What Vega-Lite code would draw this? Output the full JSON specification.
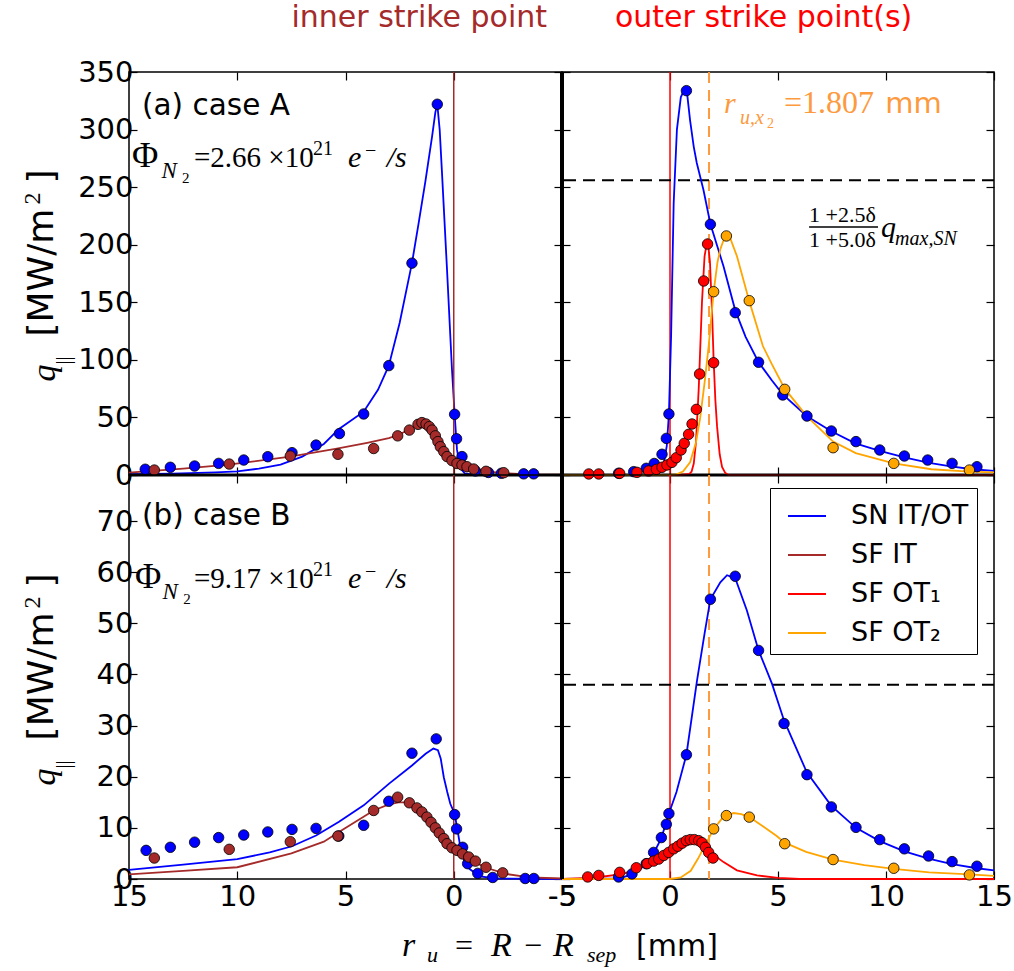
{
"$schema":"https://vega.github.io/schema/vega-lite/v6.json",
"padding":{"left":20,"top":2,"right":5,"bottom":5},
"background":"white",
"config":{
 "view":{"stroke":"black","strokeWidth":1.5},
 "axis":{"domain":false,"grid":false,"tickColor":"black","tickWidth":1.2,"tickSize":-8,"labelFont":"DejaVu Sans","labelFontSize":29,"labelColor":"black","labelFlush":false,"labelOverlap":false,"labelPadding":4}
},
"datasets":{
"pts":[
{"p":"A_IT","s":"SN IT/OT","x":14.25,"q":5},{"p":"A_IT","s":"SN IT/OT","x":13.09,"q":6.7},{"p":"A_IT","s":"SN IT/OT","x":11.97,"q":7.8},{"p":"A_IT","s":"SN IT/OT","x":10.86,"q":10.1},{"p":"A_IT","s":"SN IT/OT","x":9.7,"q":13},{"p":"A_IT","s":"SN IT/OT","x":8.59,"q":15.9},{"p":"A_IT","s":"SN IT/OT","x":7.47,"q":19.4},{"p":"A_IT","s":"SN IT/OT","x":6.36,"q":26},{"p":"A_IT","s":"SN IT/OT","x":5.28,"q":36},{"p":"A_IT","s":"SN IT/OT","x":4.16,"q":53},{"p":"A_IT","s":"SN IT/OT","x":3.0,"q":95},{"p":"A_IT","s":"SN IT/OT","x":1.93,"q":184},{"p":"A_IT","s":"SN IT/OT","x":0.76,"q":322},{"p":"A_IT","s":"SN IT/OT","x":-0.04,"q":52.7},{"p":"A_IT","s":"SN IT/OT","x":-0.13,"q":31.5},{"p":"A_IT","s":"SN IT/OT","x":-0.38,"q":16},{"p":"A_IT","s":"SN IT/OT","x":-1.0,"q":3.5},{"p":"A_IT","s":"SN IT/OT","x":-1.6,"q":2.2},{"p":"A_IT","s":"SN IT/OT","x":-2.2,"q":1.5},{"p":"A_IT","s":"SN IT/OT","x":-3.23,"q":1},{"p":"A_IT","s":"SN IT/OT","x":-3.69,"q":1},
{"p":"A_IT","s":"SF IT","x":13.83,"q":4.3},{"p":"A_IT","s":"SF IT","x":10.37,"q":9.5},{"p":"A_IT","s":"SF IT","x":7.55,"q":16.5},{"p":"A_IT","s":"SF IT","x":5.35,"q":18},{"p":"A_IT","s":"SF IT","x":3.7,"q":23},{"p":"A_IT","s":"SF IT","x":2.59,"q":34},{"p":"A_IT","s":"SF IT","x":2.05,"q":39},{"p":"A_IT","s":"SF IT","x":1.65,"q":44},{"p":"A_IT","s":"SF IT","x":1.47,"q":45.5},{"p":"A_IT","s":"SF IT","x":1.28,"q":44.3},{"p":"A_IT","s":"SF IT","x":1.13,"q":42},{"p":"A_IT","s":"SF IT","x":1.0,"q":39},{"p":"A_IT","s":"SF IT","x":0.85,"q":34},{"p":"A_IT","s":"SF IT","x":0.73,"q":29},{"p":"A_IT","s":"SF IT","x":0.62,"q":24.6},{"p":"A_IT","s":"SF IT","x":0.46,"q":20.3},{"p":"A_IT","s":"SF IT","x":0.31,"q":16},{"p":"A_IT","s":"SF IT","x":0.08,"q":12.5},{"p":"A_IT","s":"SF IT","x":-0.15,"q":10},{"p":"A_IT","s":"SF IT","x":-0.38,"q":8.7},{"p":"A_IT","s":"SF IT","x":-0.61,"q":7.2},{"p":"A_IT","s":"SF IT","x":-0.92,"q":5.2},{"p":"A_IT","s":"SF IT","x":-1.49,"q":3.2},{"p":"A_IT","s":"SF IT","x":-2.31,"q":2},
{"p":"A_OT","s":"SN IT/OT","x":-2.38,"q":1.5},{"p":"A_OT","s":"SN IT/OT","x":-1.68,"q":2.9},{"p":"A_OT","s":"SN IT/OT","x":-1.1,"q":5.8},{"p":"A_OT","s":"SN IT/OT","x":-0.73,"q":10},{"p":"A_OT","s":"SN IT/OT","x":-0.37,"q":18},{"p":"A_OT","s":"SN IT/OT","x":-0.17,"q":31.8},{"p":"A_OT","s":"SN IT/OT","x":-0.05,"q":53},{"p":"A_OT","s":"SN IT/OT","x":0.76,"q":333.8},{"p":"A_OT","s":"SN IT/OT","x":1.87,"q":217.7},{"p":"A_OT","s":"SN IT/OT","x":3.02,"q":141},{"p":"A_OT","s":"SN IT/OT","x":4.1,"q":97.9},{"p":"A_OT","s":"SN IT/OT","x":5.22,"q":69.5},{"p":"A_OT","s":"SN IT/OT","x":6.34,"q":51.2},{"p":"A_OT","s":"SN IT/OT","x":7.47,"q":38.2},{"p":"A_OT","s":"SN IT/OT","x":8.61,"q":29},{"p":"A_OT","s":"SN IT/OT","x":9.71,"q":21.7},{"p":"A_OT","s":"SN IT/OT","x":10.85,"q":16.5},{"p":"A_OT","s":"SN IT/OT","x":11.93,"q":13},{"p":"A_OT","s":"SN IT/OT","x":13.06,"q":10.1},{"p":"A_OT","s":"SN IT/OT","x":14.21,"q":7.2},
{"p":"A_OT","s":"SF OT₁","x":-3.76,"q":0.9},{"p":"A_OT","s":"SF OT₁","x":-3.3,"q":0.9},{"p":"A_OT","s":"SF OT₁","x":-2.33,"q":1.4},{"p":"A_OT","s":"SF OT₁","x":-1.53,"q":2.3},{"p":"A_OT","s":"SF OT₁","x":-0.99,"q":3.5},{"p":"A_OT","s":"SF OT₁","x":-0.63,"q":4.9},{"p":"A_OT","s":"SF OT₁","x":-0.37,"q":6.7},{"p":"A_OT","s":"SF OT₁","x":-0.14,"q":8.7},{"p":"A_OT","s":"SF OT₁","x":0.09,"q":11},{"p":"A_OT","s":"SF OT₁","x":0.29,"q":15},{"p":"A_OT","s":"SF OT₁","x":0.51,"q":21.7},{"p":"A_OT","s":"SF OT₁","x":0.66,"q":27.5},{"p":"A_OT","s":"SF OT₁","x":0.86,"q":35.3},{"p":"A_OT","s":"SF OT₁","x":1.02,"q":44.3},{"p":"A_OT","s":"SF OT₁","x":1.22,"q":57},{"p":"A_OT","s":"SF OT₁","x":1.37,"q":87.7},{"p":"A_OT","s":"SF OT₁","x":1.56,"q":168.5},{"p":"A_OT","s":"SF OT₁","x":1.74,"q":200.6},{"p":"A_OT","s":"SF OT₁","x":2.02,"q":97.5},
{"p":"A_OT","s":"SF OT₂","x":2.02,"q":159.2},{"p":"A_OT","s":"SF OT₂","x":2.61,"q":207.6},{"p":"A_OT","s":"SF OT₂","x":3.67,"q":151.4},{"p":"A_OT","s":"SF OT₂","x":5.31,"q":74.4},{"p":"A_OT","s":"SF OT₂","x":7.55,"q":23.7},{"p":"A_OT","s":"SF OT₂","x":10.36,"q":10.1},{"p":"A_OT","s":"SF OT₂","x":13.86,"q":4.3},
{"p":"B_IT","s":"SN IT/OT","x":14.21,"q":5.6},{"p":"B_IT","s":"SN IT/OT","x":13.09,"q":6.2},{"p":"B_IT","s":"SN IT/OT","x":11.97,"q":7.2},{"p":"B_IT","s":"SN IT/OT","x":10.86,"q":8.1},{"p":"B_IT","s":"SN IT/OT","x":9.7,"q":8.6},{"p":"B_IT","s":"SN IT/OT","x":8.59,"q":9.2},{"p":"B_IT","s":"SN IT/OT","x":7.47,"q":9.7},{"p":"B_IT","s":"SN IT/OT","x":6.36,"q":9.9},{"p":"B_IT","s":"SN IT/OT","x":5.31,"q":8.4},{"p":"B_IT","s":"SN IT/OT","x":4.16,"q":10.5},{"p":"B_IT","s":"SN IT/OT","x":3.0,"q":15.2},{"p":"B_IT","s":"SN IT/OT","x":1.93,"q":24.6},{"p":"B_IT","s":"SN IT/OT","x":0.81,"q":27.4},{"p":"B_IT","s":"SN IT/OT","x":-0.04,"q":12.6},{"p":"B_IT","s":"SN IT/OT","x":-0.13,"q":9.8},{"p":"B_IT","s":"SN IT/OT","x":-0.41,"q":6.2},{"p":"B_IT","s":"SN IT/OT","x":-0.64,"q":3.0},{"p":"B_IT","s":"SN IT/OT","x":-1.11,"q":1.1},{"p":"B_IT","s":"SN IT/OT","x":-1.8,"q":0.3},{"p":"B_IT","s":"SN IT/OT","x":-3.3,"q":0.1},{"p":"B_IT","s":"SN IT/OT","x":-3.7,"q":0.1},
{"p":"B_IT","s":"SF IT","x":13.83,"q":4.1},{"p":"B_IT","s":"SF IT","x":10.37,"q":5.8},{"p":"B_IT","s":"SF IT","x":7.55,"q":7.3},{"p":"B_IT","s":"SF IT","x":5.35,"q":8.4},{"p":"B_IT","s":"SF IT","x":3.7,"q":13.4},{"p":"B_IT","s":"SF IT","x":2.59,"q":16},{"p":"B_IT","s":"SF IT","x":2.05,"q":14.9},{"p":"B_IT","s":"SF IT","x":1.7,"q":13.9},{"p":"B_IT","s":"SF IT","x":1.47,"q":13.1},{"p":"B_IT","s":"SF IT","x":1.24,"q":12.1},{"p":"B_IT","s":"SF IT","x":1.05,"q":11.1},{"p":"B_IT","s":"SF IT","x":0.85,"q":10},{"p":"B_IT","s":"SF IT","x":0.67,"q":9},{"p":"B_IT","s":"SF IT","x":0.46,"q":7.9},{"p":"B_IT","s":"SF IT","x":0.31,"q":6.9},{"p":"B_IT","s":"SF IT","x":0.08,"q":6.1},{"p":"B_IT","s":"SF IT","x":-0.15,"q":5.6},{"p":"B_IT","s":"SF IT","x":-0.41,"q":4.9},{"p":"B_IT","s":"SF IT","x":-0.69,"q":4.3},{"p":"B_IT","s":"SF IT","x":-1.0,"q":3.5},{"p":"B_IT","s":"SF IT","x":-1.49,"q":2.3},{"p":"B_IT","s":"SF IT","x":-2.26,"q":1.2},
{"p":"B_OT","s":"SN IT/OT","x":-2.38,"q":0.4},{"p":"B_OT","s":"SN IT/OT","x":-1.76,"q":1.0},{"p":"B_OT","s":"SN IT/OT","x":-1.1,"q":3.0},{"p":"B_OT","s":"SN IT/OT","x":-0.76,"q":5.2},{"p":"B_OT","s":"SN IT/OT","x":-0.4,"q":8.1},{"p":"B_OT","s":"SN IT/OT","x":-0.17,"q":10.7},{"p":"B_OT","s":"SN IT/OT","x":-0.05,"q":12.8},{"p":"B_OT","s":"SN IT/OT","x":0.76,"q":24.3},{"p":"B_OT","s":"SN IT/OT","x":1.87,"q":54.7},{"p":"B_OT","s":"SN IT/OT","x":3.02,"q":59.2},{"p":"B_OT","s":"SN IT/OT","x":4.1,"q":44.7},{"p":"B_OT","s":"SN IT/OT","x":5.28,"q":30.4},{"p":"B_OT","s":"SN IT/OT","x":6.34,"q":20.4},{"p":"B_OT","s":"SN IT/OT","x":7.47,"q":14.1},{"p":"B_OT","s":"SN IT/OT","x":8.61,"q":10.1},{"p":"B_OT","s":"SN IT/OT","x":9.71,"q":7.7},{"p":"B_OT","s":"SN IT/OT","x":10.85,"q":5.9},{"p":"B_OT","s":"SN IT/OT","x":11.97,"q":4.5},{"p":"B_OT","s":"SN IT/OT","x":13.06,"q":3.4},{"p":"B_OT","s":"SN IT/OT","x":14.21,"q":2.5},
{"p":"B_OT","s":"SF OT₁","x":-3.81,"q":0.4},{"p":"B_OT","s":"SF OT₁","x":-3.3,"q":0.7},{"p":"B_OT","s":"SF OT₁","x":-2.33,"q":1.3},{"p":"B_OT","s":"SF OT₁","x":-1.56,"q":2.2},{"p":"B_OT","s":"SF OT₁","x":-1.06,"q":3.0},{"p":"B_OT","s":"SF OT₁","x":-0.76,"q":3.5},{"p":"B_OT","s":"SF OT₁","x":-0.52,"q":3.9},{"p":"B_OT","s":"SF OT₁","x":-0.29,"q":4.6},{"p":"B_OT","s":"SF OT₁","x":-0.06,"q":5.2},{"p":"B_OT","s":"SF OT₁","x":0.17,"q":5.9},{"p":"B_OT","s":"SF OT₁","x":0.36,"q":6.4},{"p":"B_OT","s":"SF OT₁","x":0.56,"q":7.0},{"p":"B_OT","s":"SF OT₁","x":0.76,"q":7.5},{"p":"B_OT","s":"SF OT₁","x":0.94,"q":7.7},{"p":"B_OT","s":"SF OT₁","x":1.13,"q":7.7},{"p":"B_OT","s":"SF OT₁","x":1.33,"q":7.5},{"p":"B_OT","s":"SF OT₁","x":1.48,"q":7.1},{"p":"B_OT","s":"SF OT₁","x":1.64,"q":6.2},{"p":"B_OT","s":"SF OT₁","x":1.79,"q":5.2},{"p":"B_OT","s":"SF OT₁","x":1.99,"q":4.1},
{"p":"B_OT","s":"SF OT₂","x":2.02,"q":9.8},{"p":"B_OT","s":"SF OT₂","x":2.61,"q":12.4},{"p":"B_OT","s":"SF OT₂","x":3.67,"q":12.1},{"p":"B_OT","s":"SF OT₂","x":5.31,"q":6.9},{"p":"B_OT","s":"SF OT₂","x":7.55,"q":3.8},{"p":"B_OT","s":"SF OT₂","x":10.36,"q":2.1},{"p":"B_OT","s":"SF OT₂","x":13.86,"q":0.8}
],
"lines":[
{"p":"A_IT","s":"SN IT/OT","x":15,"q":0.7},{"p":"A_IT","s":"SN IT/OT","x":13,"q":1.2},{"p":"A_IT","s":"SN IT/OT","x":11,"q":2.3},{"p":"A_IT","s":"SN IT/OT","x":10,"q":3.2},{"p":"A_IT","s":"SN IT/OT","x":9,"q":5.5},{"p":"A_IT","s":"SN IT/OT","x":8,"q":9},{"p":"A_IT","s":"SN IT/OT","x":7,"q":16},{"p":"A_IT","s":"SN IT/OT","x":6,"q":27},{"p":"A_IT","s":"SN IT/OT","x":5.3,"q":40},{"p":"A_IT","s":"SN IT/OT","x":4.16,"q":55},{"p":"A_IT","s":"SN IT/OT","x":3.5,"q":74},{"p":"A_IT","s":"SN IT/OT","x":3,"q":95},{"p":"A_IT","s":"SN IT/OT","x":2.5,"q":132},{"p":"A_IT","s":"SN IT/OT","x":1.93,"q":184},{"p":"A_IT","s":"SN IT/OT","x":1.62,"q":219},{"p":"A_IT","s":"SN IT/OT","x":1.31,"q":255},{"p":"A_IT","s":"SN IT/OT","x":1.0,"q":294},{"p":"A_IT","s":"SN IT/OT","x":0.85,"q":315},{"p":"A_IT","s":"SN IT/OT","x":0.76,"q":322},{"p":"A_IT","s":"SN IT/OT","x":0.65,"q":300},{"p":"A_IT","s":"SN IT/OT","x":0.55,"q":265},{"p":"A_IT","s":"SN IT/OT","x":0.31,"q":178},{"p":"A_IT","s":"SN IT/OT","x":0.08,"q":91},{"p":"A_IT","s":"SN IT/OT","x":-0.04,"q":53},{"p":"A_IT","s":"SN IT/OT","x":-0.15,"q":22},{"p":"A_IT","s":"SN IT/OT","x":-0.3,"q":6},{"p":"A_IT","s":"SN IT/OT","x":-0.5,"q":1.5},{"p":"A_IT","s":"SN IT/OT","x":-1,"q":0.2},{"p":"A_IT","s":"SN IT/OT","x":-5,"q":0},
{"p":"A_IT","s":"SF IT","x":15,"q":2},{"p":"A_IT","s":"SF IT","x":12.5,"q":5.5},{"p":"A_IT","s":"SF IT","x":10.4,"q":9},{"p":"A_IT","s":"SF IT","x":7.55,"q":16},{"p":"A_IT","s":"SF IT","x":5.4,"q":23},{"p":"A_IT","s":"SF IT","x":4,"q":28},{"p":"A_IT","s":"SF IT","x":3,"q":32},{"p":"A_IT","s":"SF IT","x":2.6,"q":34.5},{"p":"A_IT","s":"SF IT","x":2.0,"q":40},{"p":"A_IT","s":"SF IT","x":1.6,"q":44.5},{"p":"A_IT","s":"SF IT","x":1.45,"q":45},{"p":"A_IT","s":"SF IT","x":1.3,"q":44.5},{"p":"A_IT","s":"SF IT","x":1.1,"q":42},{"p":"A_IT","s":"SF IT","x":1.0,"q":39.5},{"p":"A_IT","s":"SF IT","x":0.85,"q":34},{"p":"A_IT","s":"SF IT","x":0.7,"q":28.5},{"p":"A_IT","s":"SF IT","x":0.55,"q":23},{"p":"A_IT","s":"SF IT","x":0.4,"q":18.5},{"p":"A_IT","s":"SF IT","x":0.2,"q":14.5},{"p":"A_IT","s":"SF IT","x":0,"q":12},{"p":"A_IT","s":"SF IT","x":-0.3,"q":9},{"p":"A_IT","s":"SF IT","x":-0.6,"q":7},{"p":"A_IT","s":"SF IT","x":-1,"q":5},{"p":"A_IT","s":"SF IT","x":-1.5,"q":3.2},{"p":"A_IT","s":"SF IT","x":-2.3,"q":1.6},{"p":"A_IT","s":"SF IT","x":-3,"q":0.9},{"p":"A_IT","s":"SF IT","x":-4,"q":0.4},{"p":"A_IT","s":"SF IT","x":-5,"q":0.2},
{"p":"A_OT","s":"SN IT/OT","x":-5,"q":0},{"p":"A_OT","s":"SN IT/OT","x":-1.5,"q":0},{"p":"A_OT","s":"SN IT/OT","x":-0.8,"q":0.5},{"p":"A_OT","s":"SN IT/OT","x":-0.5,"q":2},{"p":"A_OT","s":"SN IT/OT","x":-0.31,"q":8},{"p":"A_OT","s":"SN IT/OT","x":-0.15,"q":25},{"p":"A_OT","s":"SN IT/OT","x":-0.05,"q":53},{"p":"A_OT","s":"SN IT/OT","x":0.05,"q":120},{"p":"A_OT","s":"SN IT/OT","x":0.17,"q":236},{"p":"A_OT","s":"SN IT/OT","x":0.32,"q":300},{"p":"A_OT","s":"SN IT/OT","x":0.5,"q":328},{"p":"A_OT","s":"SN IT/OT","x":0.69,"q":336},{"p":"A_OT","s":"SN IT/OT","x":0.8,"q":330},{"p":"A_OT","s":"SN IT/OT","x":0.93,"q":308},{"p":"A_OT","s":"SN IT/OT","x":1.1,"q":285},{"p":"A_OT","s":"SN IT/OT","x":1.24,"q":271},{"p":"A_OT","s":"SN IT/OT","x":1.55,"q":247.5},{"p":"A_OT","s":"SN IT/OT","x":1.87,"q":218},{"p":"A_OT","s":"SN IT/OT","x":2.2,"q":198},{"p":"A_OT","s":"SN IT/OT","x":2.48,"q":181},{"p":"A_OT","s":"SN IT/OT","x":3.02,"q":143},{"p":"A_OT","s":"SN IT/OT","x":3.5,"q":120},{"p":"A_OT","s":"SN IT/OT","x":4.1,"q":98},{"p":"A_OT","s":"SN IT/OT","x":4.72,"q":82},{"p":"A_OT","s":"SN IT/OT","x":5.22,"q":70},{"p":"A_OT","s":"SN IT/OT","x":6.34,"q":51},{"p":"A_OT","s":"SN IT/OT","x":7.47,"q":38},{"p":"A_OT","s":"SN IT/OT","x":8.58,"q":27.5},{"p":"A_OT","s":"SN IT/OT","x":9.71,"q":21},{"p":"A_OT","s":"SN IT/OT","x":10.9,"q":15},{"p":"A_OT","s":"SN IT/OT","x":12,"q":10.5},{"p":"A_OT","s":"SN IT/OT","x":13,"q":7.5},{"p":"A_OT","s":"SN IT/OT","x":14,"q":5},{"p":"A_OT","s":"SN IT/OT","x":15,"q":3.5},
{"p":"A_OT","s":"SF OT₁","x":-5,"q":0},{"p":"A_OT","s":"SF OT₁","x":0.5,"q":0},{"p":"A_OT","s":"SF OT₁","x":0.9,"q":1},{"p":"A_OT","s":"SF OT₁","x":1.0,"q":3},{"p":"A_OT","s":"SF OT₁","x":1.1,"q":10},{"p":"A_OT","s":"SF OT₁","x":1.2,"q":28},{"p":"A_OT","s":"SF OT₁","x":1.33,"q":75},{"p":"A_OT","s":"SF OT₁","x":1.48,"q":150},{"p":"A_OT","s":"SF OT₁","x":1.6,"q":190},{"p":"A_OT","s":"SF OT₁","x":1.74,"q":205},{"p":"A_OT","s":"SF OT₁","x":1.85,"q":185},{"p":"A_OT","s":"SF OT₁","x":1.95,"q":140},{"p":"A_OT","s":"SF OT₁","x":2.02,"q":100},{"p":"A_OT","s":"SF OT₁","x":2.1,"q":65},{"p":"A_OT","s":"SF OT₁","x":2.18,"q":42},{"p":"A_OT","s":"SF OT₁","x":2.3,"q":18},{"p":"A_OT","s":"SF OT₁","x":2.41,"q":7},{"p":"A_OT","s":"SF OT₁","x":2.55,"q":2},{"p":"A_OT","s":"SF OT₁","x":2.7,"q":0},{"p":"A_OT","s":"SF OT₁","x":15,"q":0},
{"p":"A_OT","s":"SF OT₂","x":-5,"q":0},{"p":"A_OT","s":"SF OT₂","x":0,"q":0},{"p":"A_OT","s":"SF OT₂","x":0.3,"q":0.5},{"p":"A_OT","s":"SF OT₂","x":0.6,"q":3},{"p":"A_OT","s":"SF OT₂","x":0.93,"q":11},{"p":"A_OT","s":"SF OT₂","x":1.2,"q":28},{"p":"A_OT","s":"SF OT₂","x":1.4,"q":50},{"p":"A_OT","s":"SF OT₂","x":1.6,"q":80},{"p":"A_OT","s":"SF OT₂","x":1.79,"q":112},{"p":"A_OT","s":"SF OT₂","x":2.02,"q":159},{"p":"A_OT","s":"SF OT₂","x":2.2,"q":185},{"p":"A_OT","s":"SF OT₂","x":2.33,"q":196},{"p":"A_OT","s":"SF OT₂","x":2.5,"q":205},{"p":"A_OT","s":"SF OT₂","x":2.61,"q":207},{"p":"A_OT","s":"SF OT₂","x":2.8,"q":205},{"p":"A_OT","s":"SF OT₂","x":3.1,"q":190},{"p":"A_OT","s":"SF OT₂","x":3.67,"q":151},{"p":"A_OT","s":"SF OT₂","x":4.3,"q":112},{"p":"A_OT","s":"SF OT₂","x":4.72,"q":96},{"p":"A_OT","s":"SF OT₂","x":5.31,"q":75},{"p":"A_OT","s":"SF OT₂","x":6.34,"q":51},{"p":"A_OT","s":"SF OT₂","x":7.55,"q":29},{"p":"A_OT","s":"SF OT₂","x":8.6,"q":19},{"p":"A_OT","s":"SF OT₂","x":10.36,"q":10},{"p":"A_OT","s":"SF OT₂","x":12.1,"q":5},{"p":"A_OT","s":"SF OT₂","x":13.86,"q":3},{"p":"A_OT","s":"SF OT₂","x":15,"q":2.2},
{"p":"B_IT","s":"SN IT/OT","x":15,"q":1.8},{"p":"B_IT","s":"SN IT/OT","x":12.5,"q":2.8},{"p":"B_IT","s":"SN IT/OT","x":10,"q":3.9},{"p":"B_IT","s":"SN IT/OT","x":8.5,"q":5.2},{"p":"B_IT","s":"SN IT/OT","x":7.47,"q":6.4},{"p":"B_IT","s":"SN IT/OT","x":6.36,"q":8.5},{"p":"B_IT","s":"SN IT/OT","x":5.3,"q":11.2},{"p":"B_IT","s":"SN IT/OT","x":4.16,"q":14.4},{"p":"B_IT","s":"SN IT/OT","x":3.0,"q":18.6},{"p":"B_IT","s":"SN IT/OT","x":1.93,"q":22.2},{"p":"B_IT","s":"SN IT/OT","x":1.3,"q":24.5},{"p":"B_IT","s":"SN IT/OT","x":0.94,"q":25.5},{"p":"B_IT","s":"SN IT/OT","x":0.73,"q":25.2},{"p":"B_IT","s":"SN IT/OT","x":0.6,"q":23.5},{"p":"B_IT","s":"SN IT/OT","x":0.46,"q":19.9},{"p":"B_IT","s":"SN IT/OT","x":0.3,"q":17},{"p":"B_IT","s":"SN IT/OT","x":0.16,"q":14.7},{"p":"B_IT","s":"SN IT/OT","x":-0.04,"q":12.8},{"p":"B_IT","s":"SN IT/OT","x":-0.2,"q":8.9},{"p":"B_IT","s":"SN IT/OT","x":-0.33,"q":5.6},{"p":"B_IT","s":"SN IT/OT","x":-0.5,"q":3.5},{"p":"B_IT","s":"SN IT/OT","x":-0.72,"q":2},{"p":"B_IT","s":"SN IT/OT","x":-1.2,"q":0.5},{"p":"B_IT","s":"SN IT/OT","x":-2,"q":0.1},{"p":"B_IT","s":"SN IT/OT","x":-5,"q":0},
{"p":"B_IT","s":"SF IT","x":15,"q":0.9},{"p":"B_IT","s":"SF IT","x":12.5,"q":1.6},{"p":"B_IT","s":"SF IT","x":10,"q":2.3},{"p":"B_IT","s":"SF IT","x":7.5,"q":5},{"p":"B_IT","s":"SF IT","x":6,"q":7.3},{"p":"B_IT","s":"SF IT","x":5.3,"q":9.2},{"p":"B_IT","s":"SF IT","x":4.5,"q":11.3},{"p":"B_IT","s":"SF IT","x":3.7,"q":13.4},{"p":"B_IT","s":"SF IT","x":3.0,"q":14.6},{"p":"B_IT","s":"SF IT","x":2.55,"q":15},{"p":"B_IT","s":"SF IT","x":2.2,"q":15},{"p":"B_IT","s":"SF IT","x":1.9,"q":14.6},{"p":"B_IT","s":"SF IT","x":1.7,"q":13.9},{"p":"B_IT","s":"SF IT","x":1.47,"q":13.1},{"p":"B_IT","s":"SF IT","x":1.24,"q":12.1},{"p":"B_IT","s":"SF IT","x":1.05,"q":11.1},{"p":"B_IT","s":"SF IT","x":0.85,"q":10},{"p":"B_IT","s":"SF IT","x":0.67,"q":9},{"p":"B_IT","s":"SF IT","x":0.46,"q":7.9},{"p":"B_IT","s":"SF IT","x":0.31,"q":7},{"p":"B_IT","s":"SF IT","x":0.08,"q":6.2},{"p":"B_IT","s":"SF IT","x":-0.15,"q":5.5},{"p":"B_IT","s":"SF IT","x":-0.41,"q":4.7},{"p":"B_IT","s":"SF IT","x":-0.69,"q":3.9},{"p":"B_IT","s":"SF IT","x":-1,"q":3.2},{"p":"B_IT","s":"SF IT","x":-1.5,"q":2.2},{"p":"B_IT","s":"SF IT","x":-2.4,"q":1},{"p":"B_IT","s":"SF IT","x":-3.5,"q":0.3},{"p":"B_IT","s":"SF IT","x":-5,"q":0.1},
{"p":"B_OT","s":"SN IT/OT","x":-5,"q":0},{"p":"B_OT","s":"SN IT/OT","x":-2.4,"q":0.1},{"p":"B_OT","s":"SN IT/OT","x":-1.8,"q":0.8},{"p":"B_OT","s":"SN IT/OT","x":-1.1,"q":2.8},{"p":"B_OT","s":"SN IT/OT","x":-0.76,"q":5},{"p":"B_OT","s":"SN IT/OT","x":-0.4,"q":8},{"p":"B_OT","s":"SN IT/OT","x":-0.05,"q":12.8},{"p":"B_OT","s":"SN IT/OT","x":0.3,"q":17},{"p":"B_OT","s":"SN IT/OT","x":0.76,"q":24.3},{"p":"B_OT","s":"SN IT/OT","x":1.25,"q":38.8},{"p":"B_OT","s":"SN IT/OT","x":1.6,"q":48},{"p":"B_OT","s":"SN IT/OT","x":1.87,"q":54.7},{"p":"B_OT","s":"SN IT/OT","x":2.33,"q":58},{"p":"B_OT","s":"SN IT/OT","x":2.64,"q":59.4},{"p":"B_OT","s":"SN IT/OT","x":3.02,"q":58.8},{"p":"B_OT","s":"SN IT/OT","x":3.56,"q":52.5},{"p":"B_OT","s":"SN IT/OT","x":4.1,"q":44.7},{"p":"B_OT","s":"SN IT/OT","x":4.72,"q":38.2},{"p":"B_OT","s":"SN IT/OT","x":5.28,"q":31},{"p":"B_OT","s":"SN IT/OT","x":6.34,"q":20.8},{"p":"B_OT","s":"SN IT/OT","x":7.47,"q":14.3},{"p":"B_OT","s":"SN IT/OT","x":8.61,"q":10},{"p":"B_OT","s":"SN IT/OT","x":9.71,"q":7.4},{"p":"B_OT","s":"SN IT/OT","x":10.85,"q":5.4},{"p":"B_OT","s":"SN IT/OT","x":11.97,"q":4},{"p":"B_OT","s":"SN IT/OT","x":13.06,"q":2.9},{"p":"B_OT","s":"SN IT/OT","x":14.21,"q":2.1},{"p":"B_OT","s":"SN IT/OT","x":15,"q":1.7},
{"p":"B_OT","s":"SF OT₁","x":-5,"q":0},{"p":"B_OT","s":"SF OT₁","x":-3.6,"q":0.2},{"p":"B_OT","s":"SF OT₁","x":-2.15,"q":1},{"p":"B_OT","s":"SF OT₁","x":-1.06,"q":2.8},{"p":"B_OT","s":"SF OT₁","x":-0.29,"q":4.6},{"p":"B_OT","s":"SF OT₁","x":0.17,"q":5.9},{"p":"B_OT","s":"SF OT₁","x":0.5,"q":7.2},{"p":"B_OT","s":"SF OT₁","x":0.86,"q":8},{"p":"B_OT","s":"SF OT₁","x":1.2,"q":7.7},{"p":"B_OT","s":"SF OT₁","x":1.5,"q":6.9},{"p":"B_OT","s":"SF OT₁","x":1.79,"q":5.8},{"p":"B_OT","s":"SF OT₁","x":2.1,"q":4.5},{"p":"B_OT","s":"SF OT₁","x":2.48,"q":3.3},{"p":"B_OT","s":"SF OT₁","x":3.1,"q":1.7},{"p":"B_OT","s":"SF OT₁","x":4.03,"q":0.7},{"p":"B_OT","s":"SF OT₁","x":5,"q":0.2},{"p":"B_OT","s":"SF OT₁","x":6,"q":0},{"p":"B_OT","s":"SF OT₁","x":15,"q":0},
{"p":"B_OT","s":"SF OT₂","x":-5,"q":0},{"p":"B_OT","s":"SF OT₂","x":0,"q":0},{"p":"B_OT","s":"SF OT₂","x":0.5,"q":0.3},{"p":"B_OT","s":"SF OT₂","x":0.96,"q":1.6},{"p":"B_OT","s":"SF OT₂","x":1.3,"q":4},{"p":"B_OT","s":"SF OT₂","x":1.57,"q":6.2},{"p":"B_OT","s":"SF OT₂","x":1.8,"q":8},{"p":"B_OT","s":"SF OT₂","x":2.02,"q":9.8},{"p":"B_OT","s":"SF OT₂","x":2.48,"q":12.2},{"p":"B_OT","s":"SF OT₂","x":2.94,"q":12.9},{"p":"B_OT","s":"SF OT₂","x":3.3,"q":12.7},{"p":"B_OT","s":"SF OT₂","x":3.67,"q":12.1},{"p":"B_OT","s":"SF OT₂","x":4.3,"q":10.3},{"p":"B_OT","s":"SF OT₂","x":4.94,"q":8.4},{"p":"B_OT","s":"SF OT₂","x":5.31,"q":7.1},{"p":"B_OT","s":"SF OT₂","x":6.3,"q":5.3},{"p":"B_OT","s":"SF OT₂","x":7.55,"q":3.8},{"p":"B_OT","s":"SF OT₂","x":9,"q":2.7},{"p":"B_OT","s":"SF OT₂","x":10.36,"q":2},{"p":"B_OT","s":"SF OT₂","x":12,"q":1.3},{"p":"B_OT","s":"SF OT₂","x":13.86,"q":0.9},{"p":"B_OT","s":"SF OT₂","x":15,"q":0.6}
]
},
"columns":2,"spacing":0,"bounds":"flush",
"resolve":{"scale":{"color":"independent","fill":"independent"}},
"concat":[
{
 "width":433,"height":403,
 "resolve":{"axis":{"x":"independent","y":"independent"}},
 "layer":[
   {"data":{"name":"lines"},"transform":[{"filter":"datum.p == 'A_IT'"}],
    "mark":{"type":"line","strokeWidth":1.8},
    "encoding":{
     "x":{"field":"x","type":"quantitative","scale":{"domain":[-5,15],"reverse":true,"nice":false,"zero":false},"axis":{"orient":"bottom","values":[15,10,5,0,-5],"labels":false,"title":null}},
     "y":{"field":"q","type":"quantitative","scale":{"domain":[0,350],"nice":false},"axis":{"orient":"left","values":[0,50,100,150,200,250,300,350],"title":null}},
     "color":{"field":"s","type":"nominal","scale":{"domain":["SN IT/OT","SF IT","SF OT₁","SF OT₂"],"range":["#0000ff","#a52a2a","#ff0000","#ffa500"]},"legend":null}
    }},
   {"data":{"values":[{}]},"mark":{"type":"rule","color":"#a52a2a","strokeWidth":1.5},"encoding":{"x":{"datum":0,"axis":null}}},
   {"data":{"values":[{}]},"mark":{"type":"rule","color":"black","strokeWidth":3},"encoding":{"y":{"datum":0,"axis":null}}},
   {"data":{"values":[{}]},"mark":{"type":"text","text":"inner strike point","align":"right","baseline":"alphabetic","font":"DejaVu Sans","fontSize":30,"color":"#a52a2a"},"encoding":{"x":{"datum":-4.31,"axis":null},"y":{"datum":389.1,"axis":null}}},
   {"data":{"values":[{}]},"mark":{"type":"text","text":"(a) case A","align":"left","baseline":"alphabetic","font":"DejaVu Sans","fontSize":29.5},"encoding":{"x":{"datum":14.4,"axis":null},"y":{"datum":312.7,"axis":null}}},
   {"data":{"values":[{}]},"mark":{"type":"text","text":"Φ","align":"left","baseline":"alphabetic","font":"Liberation Serif","fontSize":36},"encoding":{"x":{"datum":14.86,"axis":null},"y":{"datum":267.5,"axis":null}}},
   {"data":{"values":[{}]},"mark":{"type":"text","text":"N","align":"left","baseline":"alphabetic","font":"Liberation Serif","fontStyle":"italic","fontSize":23},"encoding":{"x":{"datum":13.5,"axis":null},"y":{"datum":258,"axis":null}}},
   {"data":{"values":[{}]},"mark":{"type":"text","text":"2","align":"left","baseline":"alphabetic","font":"Liberation Serif","fontSize":15},"encoding":{"x":{"datum":12.55,"axis":null},"y":{"datum":253.6,"axis":null}}},
   {"data":{"values":[{}]},"mark":{"type":"text","text":"=2.66 ×10","align":"left","baseline":"alphabetic","font":"Liberation Serif","fontSize":29},"encoding":{"x":{"datum":12.0,"axis":null},"y":{"datum":267.5,"axis":null}}},
   {"data":{"values":[{}]},"mark":{"type":"text","text":"21","align":"left","baseline":"alphabetic","font":"Liberation Serif","fontSize":20},"encoding":{"x":{"datum":6.5,"axis":null},"y":{"datum":277.9,"axis":null}}},
   {"data":{"values":[{}]},"mark":{"type":"text","text":"e","align":"left","baseline":"alphabetic","font":"Liberation Serif","fontStyle":"italic","fontSize":30},"encoding":{"x":{"datum":4.89,"axis":null},"y":{"datum":267.5,"axis":null}}},
   {"data":{"values":[{}]},"mark":{"type":"text","text":"−","align":"left","baseline":"alphabetic","font":"Liberation Serif","fontSize":20},"encoding":{"x":{"datum":4.1,"axis":null},"y":{"datum":276.2,"axis":null}}},
   {"data":{"values":[{}]},"mark":{"type":"text","text":"/s","align":"left","baseline":"alphabetic","font":"Liberation Serif","fontStyle":"italic","fontSize":30},"encoding":{"x":{"datum":3.1,"axis":null},"y":{"datum":267.5,"axis":null}}},
   {"data":{"values":[{}]},"mark":{"type":"text","text":"q","angle":270,"align":"left","baseline":"alphabetic","font":"Liberation Serif","fontStyle":"italic","fontSize":34},"encoding":{"x":{"datum":18.41,"axis":null},"y":{"datum":81.2,"axis":null}}},
   {"data":{"values":[{}]},"mark":{"type":"text","text":"||","angle":270,"align":"left","baseline":"alphabetic","font":"Liberation Serif","fontSize":20},"encoding":{"x":{"datum":17.72,"axis":null},"y":{"datum":96,"axis":null}}},
   {"data":{"values":[{}]},"mark":{"type":"text","text":"[MW/m","angle":270,"align":"left","baseline":"alphabetic","font":"DejaVu Sans","fontSize":36},"encoding":{"x":{"datum":18.51,"axis":null},"y":{"datum":120.3,"axis":null}}},
   {"data":{"values":[{}]},"mark":{"type":"text","text":"2","angle":270,"align":"left","baseline":"alphabetic","font":"Liberation Serif","fontSize":24},"encoding":{"x":{"datum":19.1,"axis":null},"y":{"datum":234.9,"axis":null}}},
   {"data":{"values":[{}]},"mark":{"type":"text","text":"]","angle":270,"align":"left","baseline":"alphabetic","font":"DejaVu Sans","fontSize":36},"encoding":{"x":{"datum":18.51,"axis":null},"y":{"datum":253.2,"axis":null}}},
   {"data":{"name":"pts"},"transform":[{"filter":"datum.p == 'A_IT'"}],
    "mark":{"type":"circle","size":110,"stroke":"black","strokeWidth":0.8,"opacity":1},
    "encoding":{
     "x":{"field":"x","type":"quantitative","scale":{"domain":[-5,15],"reverse":true,"nice":false,"zero":false},"axis":{"orient":"top","values":[15,10,5,0,-5],"labels":false,"title":null}},
     "y":{"field":"q","type":"quantitative","scale":{"domain":[0,350],"nice":false},"axis":{"orient":"right","values":[0,50,100,150,200,250,300,350],"labels":false,"title":null}},
     "fill":{"field":"s","type":"nominal","scale":{"domain":["SN IT/OT","SF IT","SF OT₁","SF OT₂"],"range":["#0000ff","#a52a2a","#ff0000","#ffa500"]},"legend":null}
    }}
 ]
},
{
 "width":432,"height":403,
 "resolve":{"axis":{"x":"independent","y":"independent"}},
 "layer":[
   {"data":{"values":[{}]},"mark":{"type":"rule","color":"#ff0000","strokeWidth":1.5},"encoding":{"x":{"datum":0,"axis":null}}},
   {"data":{"values":[{}]},"mark":{"type":"rule","color":"#fd9a3e","strokeWidth":2,"strokeDash":[11,7]},"encoding":{"x":{"datum":1.807,"axis":null}}},
   {"data":{"values":[{}]},"mark":{"type":"rule","color":"black","strokeWidth":2,"strokeDash":[12,7]},"encoding":{"y":{"datum":256,"axis":null}}},
   {"data":{"values":[{}]},"mark":{"type":"rule","color":"black","strokeWidth":3},"encoding":{"y":{"datum":0,"axis":null}}},
   {"data":{"name":"lines"},"transform":[{"filter":"datum.p == 'A_OT'"}],
    "mark":{"type":"line","strokeWidth":1.8},
    "encoding":{
     "x":{"field":"x","type":"quantitative","scale":{"domain":[-5,15],"nice":false,"zero":false},"axis":{"orient":"bottom","values":[-5,0,5,10,15],"labels":false,"title":null}},
     "y":{"field":"q","type":"quantitative","scale":{"domain":[0,350],"nice":false},"axis":{"orient":"left","values":[0,50,100,150,200,250,300,350],"labels":false,"title":null}},
     "color":{"field":"s","type":"nominal","scale":{"domain":["SN IT/OT","SF IT","SF OT₁","SF OT₂"],"range":["#0000ff","#a52a2a","#ff0000","#ffa500"]},"legend":null}
    }},
   {"data":{"values":[{}]},"mark":{"type":"rule","color":"black","strokeWidth":4},"encoding":{"x":{"datum":-5,"axis":null}}},
   {"data":{"values":[{}]},"mark":{"type":"text","text":"outer strike point(s)","align":"left","baseline":"alphabetic","font":"DejaVu Sans","fontSize":30,"color":"#ff0000"},"encoding":{"x":{"datum":-2.55,"axis":null},"y":{"datum":389.1,"axis":null}}},
   {"data":{"values":[{}]},"mark":{"type":"text","text":"r","align":"left","baseline":"alphabetic","font":"Liberation Serif","fontStyle":"italic","fontSize":30,"color":"#fd9a3e"},"encoding":{"x":{"datum":2.5,"axis":null},"y":{"datum":314.4,"axis":null}}},
   {"data":{"values":[{}]},"mark":{"type":"text","text":"u,x","align":"left","baseline":"alphabetic","font":"Liberation Serif","fontStyle":"italic","fontSize":20,"color":"#fd9a3e"},"encoding":{"x":{"datum":3.24,"axis":null},"y":{"datum":304.8,"axis":null}}},
   {"data":{"values":[{}]},"mark":{"type":"text","text":"2","align":"left","baseline":"alphabetic","font":"Liberation Serif","fontSize":14,"color":"#fd9a3e"},"encoding":{"x":{"datum":4.49,"axis":null},"y":{"datum":301.4,"axis":null}}},
   {"data":{"values":[{}]},"mark":{"type":"text","text":"=1.807","align":"left","baseline":"alphabetic","font":"Liberation Serif","fontSize":32,"color":"#fd9a3e"},"encoding":{"x":{"datum":5.28,"axis":null},"y":{"datum":314.4,"axis":null}}},
   {"data":{"values":[{}]},"mark":{"type":"text","text":"mm","align":"left","baseline":"alphabetic","font":"DejaVu Sans","fontSize":29,"color":"#fd9a3e"},"encoding":{"x":{"datum":9.96,"axis":null},"y":{"datum":314.4,"axis":null}}},
   {"data":{"values":[{}]},"mark":{"type":"text","text":"1 +2.5δ","align":"left","baseline":"alphabetic","font":"Liberation Serif","fontSize":22},"encoding":{"x":{"datum":6.44,"axis":null},"y":{"datum":219.7,"axis":null}}},
   {"data":{"values":[{}]},"mark":{"type":"rule","color":"black","strokeWidth":1.5},"encoding":{"x":{"datum":6.44,"axis":null},"x2":{"datum":9.63},"y":{"datum":215.4,"axis":null}}},
   {"data":{"values":[{}]},"mark":{"type":"text","text":"1 +5.0δ","align":"left","baseline":"alphabetic","font":"Liberation Serif","fontSize":22},"encoding":{"x":{"datum":6.44,"axis":null},"y":{"datum":198,"axis":null}}},
   {"data":{"values":[{}]},"mark":{"type":"text","text":"q","align":"left","baseline":"alphabetic","font":"Liberation Serif","fontStyle":"italic","fontSize":30},"encoding":{"x":{"datum":9.77,"axis":null},"y":{"datum":206.7,"axis":null}}},
   {"data":{"values":[{}]},"mark":{"type":"text","text":"max,SN","align":"left","baseline":"alphabetic","font":"Liberation Serif","fontStyle":"italic","fontSize":20},"encoding":{"x":{"datum":10.42,"axis":null},"y":{"datum":199.8,"axis":null}}},
   {"data":{"name":"pts"},"transform":[{"filter":"datum.p == 'A_OT'"}],
    "mark":{"type":"circle","size":110,"stroke":"black","strokeWidth":0.8,"opacity":1},
    "encoding":{
     "x":{"field":"x","type":"quantitative","scale":{"domain":[-5,15],"nice":false,"zero":false},"axis":{"orient":"top","values":[-5,0,5,10,15],"labels":false,"title":null}},
     "y":{"field":"q","type":"quantitative","scale":{"domain":[0,350],"nice":false},"axis":{"orient":"right","values":[0,50,100,150,200,250,300,350],"labels":false,"title":null}},
     "fill":{"field":"s","type":"nominal","scale":{"domain":["SN IT/OT","SF IT","SF OT₁","SF OT₂"],"range":["#0000ff","#a52a2a","#ff0000","#ffa500"]},"legend":null}
    }}
 ]
},
{
 "width":433,"height":404,
 "resolve":{"axis":{"x":"independent","y":"independent"}},
 "layer":[
   {"data":{"name":"lines"},"transform":[{"filter":"datum.p == 'B_IT'"}],
    "mark":{"type":"line","strokeWidth":1.8},
    "encoding":{
     "x":{"field":"x","type":"quantitative","scale":{"domain":[-5,15],"reverse":true,"nice":false,"zero":false},"axis":{"orient":"bottom","values":[15,10,5,0,-5],"labelExpr":"'' + datum.value","labelPadding":11,"title":null}},
     "y":{"field":"q","type":"quantitative","scale":{"domain":[0,79],"nice":false},"axis":{"orient":"left","values":[0,10,20,30,40,50,60,70],"title":null}},
     "color":{"field":"s","type":"nominal","scale":{"domain":["SN IT/OT","SF IT","SF OT₁","SF OT₂"],"range":["#0000ff","#a52a2a","#ff0000","#ffa500"]},"legend":null}
    }},
   {"data":{"values":[{}]},"mark":{"type":"rule","color":"#a52a2a","strokeWidth":1.5},"encoding":{"x":{"datum":0,"axis":null}}},
   {"data":{"values":[{}]},"mark":{"type":"text","text":"(b) case B","align":"left","baseline":"alphabetic","font":"DejaVu Sans","fontSize":29.5},"encoding":{"x":{"datum":14.4,"axis":null},"y":{"datum":69.2,"axis":null}}},
   {"data":{"values":[{}]},"mark":{"type":"text","text":"Φ","align":"left","baseline":"alphabetic","font":"Liberation Serif","fontSize":36},"encoding":{"x":{"datum":14.72,"axis":null},"y":{"datum":56.85,"axis":null}}},
   {"data":{"values":[{}]},"mark":{"type":"text","text":"N","align":"left","baseline":"alphabetic","font":"Liberation Serif","fontStyle":"italic","fontSize":23},"encoding":{"x":{"datum":13.45,"axis":null},"y":{"datum":54.7,"axis":null}}},
   {"data":{"values":[{}]},"mark":{"type":"text","text":"2","align":"left","baseline":"alphabetic","font":"Liberation Serif","fontSize":15},"encoding":{"x":{"datum":12.5,"axis":null},"y":{"datum":53.7,"axis":null}}},
   {"data":{"values":[{}]},"mark":{"type":"text","text":"=9.17 ×10","align":"left","baseline":"alphabetic","font":"Liberation Serif","fontSize":29},"encoding":{"x":{"datum":12.0,"axis":null},"y":{"datum":56.85,"axis":null}}},
   {"data":{"values":[{}]},"mark":{"type":"text","text":"21","align":"left","baseline":"alphabetic","font":"Liberation Serif","fontSize":20},"encoding":{"x":{"datum":6.5,"axis":null},"y":{"datum":59.2,"axis":null}}},
   {"data":{"values":[{}]},"mark":{"type":"text","text":"e","align":"left","baseline":"alphabetic","font":"Liberation Serif","fontStyle":"italic","fontSize":30},"encoding":{"x":{"datum":4.89,"axis":null},"y":{"datum":56.85,"axis":null}}},
   {"data":{"values":[{}]},"mark":{"type":"text","text":"−","align":"left","baseline":"alphabetic","font":"Liberation Serif","fontSize":20},"encoding":{"x":{"datum":4.1,"axis":null},"y":{"datum":58.8,"axis":null}}},
   {"data":{"values":[{}]},"mark":{"type":"text","text":"/s","align":"left","baseline":"alphabetic","font":"Liberation Serif","fontStyle":"italic","fontSize":30},"encoding":{"x":{"datum":3.1,"axis":null},"y":{"datum":56.85,"axis":null}}},
   {"data":{"values":[{}]},"mark":{"type":"text","text":"q","angle":270,"align":"left","baseline":"alphabetic","font":"Liberation Serif","fontStyle":"italic","fontSize":34},"encoding":{"x":{"datum":18.41,"axis":null},"y":{"datum":18.3,"axis":null}}},
   {"data":{"values":[{}]},"mark":{"type":"text","text":"||","angle":270,"align":"left","baseline":"alphabetic","font":"Liberation Serif","fontSize":20},"encoding":{"x":{"datum":17.72,"axis":null},"y":{"datum":21.6,"axis":null}}},
   {"data":{"values":[{}]},"mark":{"type":"text","text":"[MW/m","angle":270,"align":"left","baseline":"alphabetic","font":"DejaVu Sans","fontSize":36},"encoding":{"x":{"datum":18.51,"axis":null},"y":{"datum":27.1,"axis":null}}},
   {"data":{"values":[{}]},"mark":{"type":"text","text":"2","angle":270,"align":"left","baseline":"alphabetic","font":"Liberation Serif","fontSize":24},"encoding":{"x":{"datum":19.1,"axis":null},"y":{"datum":52.9,"axis":null}}},
   {"data":{"values":[{}]},"mark":{"type":"text","text":"]","angle":270,"align":"left","baseline":"alphabetic","font":"DejaVu Sans","fontSize":36},"encoding":{"x":{"datum":18.51,"axis":null},"y":{"datum":57,"axis":null}}},
   {"data":{"values":[{}]},"mark":{"type":"text","text":"r","align":"left","baseline":"alphabetic","font":"Liberation Serif","fontStyle":"italic","fontSize":34},"encoding":{"x":{"datum":2.39,"axis":null},"y":{"datum":-14.97,"axis":null}}},
   {"data":{"values":[{}]},"mark":{"type":"text","text":"u","align":"left","baseline":"alphabetic","font":"Liberation Serif","fontStyle":"italic","fontSize":22},"encoding":{"x":{"datum":1.24,"axis":null},"y":{"datum":-16.3,"axis":null}}},
   {"data":{"values":[{}]},"mark":{"type":"text","text":"=","align":"left","baseline":"alphabetic","font":"Liberation Serif","fontSize":32},"encoding":{"x":{"datum":-0.06,"axis":null},"y":{"datum":-14.97,"axis":null}}},
   {"data":{"values":[{}]},"mark":{"type":"text","text":"R","align":"left","baseline":"alphabetic","font":"Liberation Serif","fontStyle":"italic","fontSize":34},"encoding":{"x":{"datum":-1.72,"axis":null},"y":{"datum":-14.97,"axis":null}}},
   {"data":{"values":[{}]},"mark":{"type":"text","text":"−","align":"left","baseline":"alphabetic","font":"Liberation Serif","fontSize":32},"encoding":{"x":{"datum":-3.24,"axis":null},"y":{"datum":-14.97,"axis":null}}},
   {"data":{"values":[{}]},"mark":{"type":"text","text":"R","align":"left","baseline":"alphabetic","font":"Liberation Serif","fontStyle":"italic","fontSize":34},"encoding":{"x":{"datum":-4.58,"axis":null},"y":{"datum":-14.97,"axis":null}}},
   {"data":{"values":[{}]},"mark":{"type":"text","text":"sep","align":"left","baseline":"alphabetic","font":"Liberation Serif","fontStyle":"italic","fontSize":22},"encoding":{"x":{"datum":-6.15,"axis":null},"y":{"datum":-16.3,"axis":null}}},
   {"data":{"values":[{}]},"mark":{"type":"text","text":"[mm]","align":"left","baseline":"alphabetic","font":"DejaVu Sans","fontSize":30},"encoding":{"x":{"datum":-8.42,"axis":null},"y":{"datum":-14.97,"axis":null}}},
   {"data":{"name":"pts"},"transform":[{"filter":"datum.p == 'B_IT'"}],
    "mark":{"type":"circle","size":110,"stroke":"black","strokeWidth":0.8,"opacity":1},
    "encoding":{
     "x":{"field":"x","type":"quantitative","scale":{"domain":[-5,15],"reverse":true,"nice":false,"zero":false},"axis":{"orient":"top","values":[15,10,5,0,-5],"labels":false,"title":null}},
     "y":{"field":"q","type":"quantitative","scale":{"domain":[0,79],"nice":false},"axis":{"orient":"right","values":[0,10,20,30,40,50,60,70],"labels":false,"title":null}},
     "fill":{"field":"s","type":"nominal","scale":{"domain":["SN IT/OT","SF IT","SF OT₁","SF OT₂"],"range":["#0000ff","#a52a2a","#ff0000","#ffa500"]},"legend":null}
    }}
 ]
},
{
 "width":432,"height":404,
 "resolve":{"axis":{"x":"independent","y":"independent"}},
 "layer":[
   {"data":{"values":[{}]},"mark":{"type":"rule","color":"#ff0000","strokeWidth":1.5},"encoding":{"x":{"datum":0,"axis":null}}},
   {"data":{"values":[{}]},"mark":{"type":"rule","color":"#fd9a3e","strokeWidth":2,"strokeDash":[11,7]},"encoding":{"x":{"datum":1.807,"axis":null}}},
   {"data":{"values":[{}]},"mark":{"type":"rule","color":"black","strokeWidth":2,"strokeDash":[12,7]},"encoding":{"y":{"datum":38,"axis":null}}},
   {"data":{"name":"lines"},"transform":[{"filter":"datum.p == 'B_OT'"}],
    "mark":{"type":"line","strokeWidth":1.8},
    "encoding":{
     "x":{"field":"x","type":"quantitative","scale":{"domain":[-5,15],"nice":false,"zero":false},"axis":{"orient":"bottom","values":[-5,0,5,10,15],"labelExpr":"'' + datum.value","labelPadding":11,"title":null}},
     "y":{"field":"q","type":"quantitative","scale":{"domain":[0,79],"nice":false},"axis":{"orient":"left","values":[0,10,20,30,40,50,60,70],"labels":false,"title":null}},
     "color":{"field":"s","type":"nominal","scale":{"domain":["SN IT/OT","SF IT","SF OT₁","SF OT₂"],"range":["#0000ff","#a52a2a","#ff0000","#ffa500"]},
       "legend":{"orient":"none","legendX":208,"legendY":13,"title":null,"symbolType":"stroke","symbolSize":1444,"symbolStrokeWidth":2,"labelFont":"DejaVu Sans","labelFontSize":27,"labelColor":"black","labelOffset":24,"padding":8,"symbolOffset":9,"rowPadding":6,"strokeColor":"black","fillColor":"white","cornerRadius":0}}
    }},
   {"data":{"values":[{}]},"mark":{"type":"rule","color":"black","strokeWidth":4},"encoding":{"x":{"datum":-5,"axis":null}}},
   {"data":{"name":"pts"},"transform":[{"filter":"datum.p == 'B_OT'"}],
    "mark":{"type":"circle","size":110,"stroke":"black","strokeWidth":0.8,"opacity":1},
    "encoding":{
     "x":{"field":"x","type":"quantitative","scale":{"domain":[-5,15],"nice":false,"zero":false},"axis":{"orient":"top","values":[-5,0,5,10,15],"labels":false,"title":null}},
     "y":{"field":"q","type":"quantitative","scale":{"domain":[0,79],"nice":false},"axis":{"orient":"right","values":[0,10,20,30,40,50,60,70],"labels":false,"title":null}},
     "fill":{"field":"s","type":"nominal","scale":{"domain":["SN IT/OT","SF IT","SF OT₁","SF OT₂"],"range":["#0000ff","#a52a2a","#ff0000","#ffa500"]},"legend":null}
    }}
 ]
}
]
}
